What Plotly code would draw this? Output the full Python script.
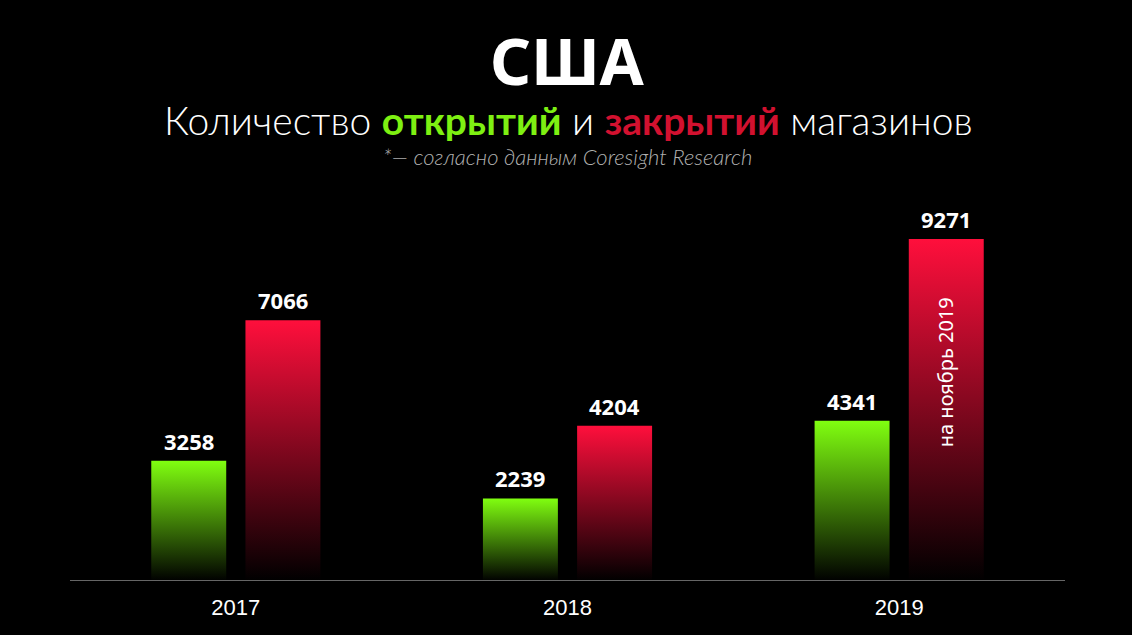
import plotly.graph_objects as go

# данные
years = ['2017', '2018', '2019']
opened = [3258, 2239, 4341]
closed = [7066, 4204, 9271]

green = '#80ff10'
red = '#ff0f3c'

fig = go.Figure()

half = 0.113   # полуширина столбца
shift = 0.142  # смещение от центра группы

def add_bar(x0, value, color):
    fig.add_trace(go.Scatter(
        x=[x0 - half, x0 - half, x0 + half, x0 + half, x0 - half],
        y=[0, value, value, 0, 0],
        mode='lines', line=dict(width=0), fill='toself',
        fillgradient=dict(type='vertical', colorscale=[[0, 'black'], [1, color]]),
        hoverinfo='skip', showlegend=False))

for i in range(len(years)):
    add_bar(i - shift, opened[i], green)
    add_bar(i + shift, closed[i], red)

# подписи значений над столбцами
for i in range(len(years)):
    for x0, v in [(i - shift, opened[i]), (i + shift, closed[i])]:
        fig.add_annotation(x=x0, y=v, xref='x', yref='y', text='<b>%d</b>' % v,
                           showarrow=False, yanchor='bottom', yshift=3,
                           font=dict(family='Noto Sans', size=22, color='white'))

fig.add_annotation(x=2 + shift, y=5664, xref='x', yref='y', text='на ноябрь 2019',
                   textangle=-90, showarrow=False,
                   font=dict(family='Noto Sans', size=20, color='white'))

fig.update_layout(
    width=1132, height=635,
    paper_bgcolor='black', plot_bgcolor='black',
    margin=dict(l=70, r=67, t=200, b=54),
    xaxis=dict(range=[-0.5, 2.5], tickvals=[0, 1, 2], ticktext=years,
               showgrid=False, zeroline=False, showline=False, ticks='',
               ticklabelstandoff=11,
               tickfont=dict(family='Liberation Sans', size=22, color='white')),
    yaxis=dict(range=[0, 10325], visible=False, fixedrange=True),
    shapes=[dict(type='line', xref='paper', yref='y', x0=0, x1=1, y0=0, y1=0,
                 line=dict(color='#cccccc', width=1))],
)

# заголовки (центр по вертикали: 200 - (y - 1) * 381 пикселей)
fig.add_annotation(x=0.5, y=1.367, xref='paper', yref='paper', text='<b>США</b>',
                   showarrow=False, yanchor='middle',
                   font=dict(family='Noto Sans', size=64, color='white'))
fig.add_annotation(x=0.5, y=1.21, xref='paper', yref='paper',
                   text='Количество <b><span style="color:#7ef012">открытий</span></b> и '
                        '<b><span style="color:#d2112f">закрытий</span></b> магазинов',
                   showarrow=False, yanchor='middle',
                   font=dict(family='Lato', size=39, color='white', weight=300))
fig.add_annotation(x=0.5, y=1.115, xref='paper', yref='paper',
                   text='<i>*— согласно данным Coresight Research</i>',
                   showarrow=False, yanchor='middle',
                   font=dict(family='Lato', size=22, color='#b0b0b0', weight=300))

fig.write_html('out.html', config={'displayModeBar': False},
               post_script="document.body.style.margin='0';")
